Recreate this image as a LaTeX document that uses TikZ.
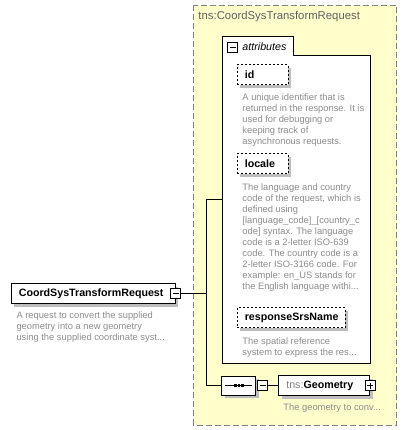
\documentclass[tikz,border=0pt]{standalone}
\usepackage{fontspec}
\setmainfont{Liberation Sans}
\usetikzlibrary{positioning, shadows, shapes.misc}
\definecolor{typeyellow}{RGB}{255,255,204}
\definecolor{framegray}{RGB}{128,128,128}
\definecolor{titlegray}{RGB}{96,96,96}
\definecolor{notegray}{RGB}{140,140,140}
\definecolor{shadegray}{RGB}{190,190,190}
\tikzset{
  boxshade/.style={general shadow={fill=shadegray, shadow xshift=2.25pt, shadow yshift=-2.25pt}},
  elembox/.style={draw, fill=white, anchor=north west, minimum height=15pt,
    inner xsep=5.5pt, inner ysep=0pt, align=left, boxshade,
    font=\fontsize{8}{10}\selectfont\bfseries},
  attrbox/.style={elembox, dash pattern=on 1.5pt off 1.5pt},
  % multi-line notes: placed at the baseline of their last line
  note/.style={anchor=base west, inner sep=0pt, align=left, text=notegray,
    font=\fontsize{7}{8.25}\selectfont},
  pmbox/.style={draw, solid, fill=white, minimum size=7.5pt, inner sep=0pt},
  collapsebox/.style={pmbox, path picture={
    \draw ([xshift=1.5pt]path picture bounding box.west) -- ([xshift=-1.5pt]path picture bounding box.east);}},
  expandbox/.style={pmbox, path picture={
    \draw ([xshift=1.5pt]path picture bounding box.west) -- ([xshift=-1.5pt]path picture bounding box.east);
    \draw ([yshift=-1.5pt]path picture bounding box.north) -- ([yshift=1.5pt]path picture bounding box.south);}},
  seqbox/.style={chamfered rectangle, chamfered rectangle xsep=3pt, draw, fill=white,
    minimum width=25.5pt, minimum height=14.25pt, inner sep=0pt, boxshade}
}
\begin{document}
\begin{tikzpicture}[x=0.75pt, y=-0.75pt, line width=0.75pt]
  \useasboundingbox (0,0) rectangle (415,430);
  % complex type frame
  \draw[framegray, fill=typeyellow, dash pattern=on 4.5pt off 2.25pt] (194,5) rectangle (397,425);
  \node[anchor=base west, inner sep=0pt, text=titlegray, font=\fontsize{8.5}{10}\selectfont] (typename) at (198,19) {tns:CoordSysTransformRequest};
  % attributes group
  \node[minimum width=110.25pt, minimum height=244.5pt, inner sep=0pt, anchor=north west] (attrs) at (223,36) {};
  \draw[fill=white] (attrs.south west) -- (attrs.north west) -| (294,55) -| (attrs.south east) -- cycle;
  \node[collapsebox] (attrsminus) at (233,47.5) {};
  \node[anchor=base west, inner sep=0pt, font=\fontsize{8}{10}\selectfont\itshape] (attrslabel) at (242,50) {attributes};
  % attributes
  \node[attrbox, text width=27.25pt] (id) at (237,64) {id};
  \node[note] (idnote) at (242,144) {A unique identifier that is\\returned in the response. It is\\used for debugging or\\keeping track of\\asynchronous requests.};
  \node[attrbox, text width=27.25pt] (locale) at (237,153) {locale};
  \node[note] (localenote) at (242,289) {The language and country\\code of the request, which is\\defined using\\{[}language\_code{]}\_{[}country\_c\\ode{]} syntax. The language\\code is a 2-letter ISO-639\\code. The country code is a\\2-letter ISO-3166 code. For\\example: en\_US stands for\\the English language withi...};
  \node[attrbox, text width=70pt] (srs) at (237,307) {responseSrsName};
  \node[note] (srsnote) at (242,355) {The spatial reference\\system to express the res...};
  % root element
  \node[elembox, text width=112pt] (root) at (11,283) {CoordSysTransformRequest};
  \node[collapsebox] (rootminus) at (root.east) {};
  \node[note] (rootnote) at (16,340) {A request to convert the supplied\\geometry into a new geometry\\using the supplied coordinate syst...};
  % sequence and geometry
  \node[seqbox] (seq) at (239,385.5) {};
  \draw ([xshift=3pt]seq.west) -- ([xshift=-3pt]seq.east);
  \foreach \dx in {-3.5,0,3.5}
    \fill ([xshift=\dx*0.75pt]seq.center) +(-1.4,-1.4) rectangle +(1.4,1.4);
  \node[collapsebox, right=0.75pt of seq] (seqminus) {};
  \node[elembox, text width=57.25pt, right=7.5pt of seqminus] (geo) {\textcolor{framegray}{\mdseries tns:}Geometry};
  \node[expandbox] (geoplus) at (geo.east) {};
  \node[note] (geonote) at (283,410) {The geometry to conv...};
  % connectors
  \coordinate (spine) at (207,0);
  \draw (rootminus.east) -- (rootminus.east -| spine);
  \draw (attrs.west) -| (spine |- seq.west) -- (seq.west);
  \draw (seqminus.east) -- (geo.west);
\end{tikzpicture}
\end{document}
